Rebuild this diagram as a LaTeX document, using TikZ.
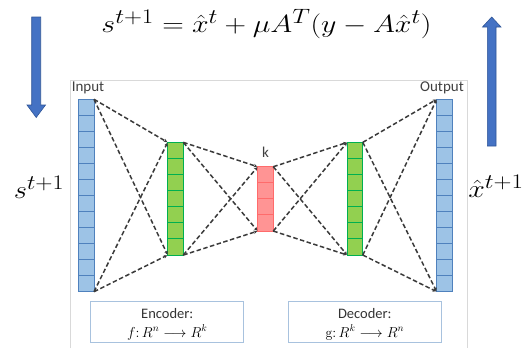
\documentclass[tikz,border=0pt]{standalone}
\usepackage{fontspec}
\usepackage{graphicx}
\newfontfamily\carlitofont{Carlito}
\usetikzlibrary{calc,arrows.meta}
\definecolor{bluefill}{HTML}{9DC3E6}
\definecolor{blueline}{HTML}{4F81BD}
\definecolor{greenfill}{HTML}{92D050}
\definecolor{greenline}{HTML}{00B050}
\definecolor{redfill}{HTML}{FF9494}
\definecolor{redline}{HTML}{FF6B6B}
\definecolor{arrowfill}{HTML}{4472C4}
\definecolor{arrowline}{HTML}{2F5597}
\definecolor{framegray}{HTML}{D9D9D9}
\definecolor{boxline}{HTML}{A8C2DE}
\definecolor{dashgray}{HTML}{3A3A3A}
\tikzset{
  col/.style={draw, line width=1pt, minimum width=15.6pt, inner sep=0pt, outer sep=0pt},
  bluecol/.style={col, fill=bluefill, draw=blueline},
  greencol/.style={col, fill=greenfill, draw=greenline},
  redcol/.style={col, fill=redfill, draw=redline},
  conn/.style={dashgray, line width=1.5pt, dash pattern=on 4.5pt off 2.5pt, -{Stealth[length=3.5pt,width=3.5pt]}, shorten >=0.5pt},
  lbl/.style={font=\carlitofont\fontsize{15}{17}\selectfont, text=black!75, inner sep=0pt},
  boxlbl/.style={font=\carlitofont\fontsize{14.5}{17}\selectfont, text=black!80, inner sep=0pt},
  infobox/.style={draw=boxline, line width=1pt, fill=white, minimum width=153pt, minimum height=40.6pt, inner sep=0pt},
  bigarrow/.style={fill=arrowfill, draw=arrowline, line width=0.6pt},
}
\newcommand{\mycells}[3]{% node, count, color
  \foreach \i in {1,...,\numexpr#2-1\relax}{
    \draw[#3, line width=1pt] ($(#1.north west)!{\i/#2}!(#1.south west)$) -- ($(#1.north east)!{\i/#2}!(#1.south east)$);
  }}
\begin{document}
\begin{tikzpicture}[x=1pt,y=-1pt]
\useasboundingbox (0,0) rectangle (527,348);
% frame
\draw[framegray, line width=0.8pt] (70.5,348) -- (70.5,80) -- (467,80) -- (467,348);
% columns
\node[bluecol, minimum height=192.4pt] (in) at (86.2,195.5) {};
\node[greencol, minimum height=112.7pt] (g1) at (175.5,198.7) {};
\node[redcol, minimum height=64.3pt] (r) at (265.5,198.9) {};
\node[greencol, minimum height=112.7pt] (g2) at (355,198.7) {};
\node[bluecol, minimum height=192.4pt] (out) at (444.5,195.5) {};
\mycells{in}{12}{blueline}
\mycells{g1}{7}{greenline}
\mycells{r}{4}{redline}
\mycells{g2}{7}{greenline}
\mycells{out}{12}{blueline}
% labels
\node[lbl] (linput) at (88,88) {Input};
\node[lbl] (loutput) at (442,88) {Output};
\node[lbl] (lk) at (265.5,152) {k};
% connections
\foreach \a/\b in {in/g1, g1/r, r/g2, g2/out}{
  \draw[conn] (\a.north east) -- (\b.north west);
  \draw[conn] (\a.north east) -- (\b.south west);
  \draw[conn] (\a.south east) -- (\b.north west);
  \draw[conn] (\a.south east) -- (\b.south west);
}
% boxes
\node[infobox] (enc) at (167.3,322) {};
\node[boxlbl] (enct) at (167.3,313.5) {Encoder:};
\node[inner sep=0pt] (encf) at (167.3,332.5) {\fontsize{14}{16}\selectfont $f\colon R^n\longrightarrow R^k$};
\node[infobox] (dec) at (364.8,322) {};
\node[boxlbl] (dect) at (364.8,313.5) {Decoder:};
\node[inner sep=0pt] (decf) at (364.8,332.5) {\fontsize{14}{16}\selectfont $\mathrm{g}\colon R^k\longrightarrow R^n$};
% big arrows
\draw[bigarrow] (31.7,17) -- (40.7,17) -- (40.7,105) -- (45.5,105) -- (36.2,117.5) -- (27,105) -- (31.7,105) -- cycle;
\draw[bigarrow] (487.3,146) -- (496,146) -- (496,27) -- (501,27) -- (491.7,17) -- (482.5,27) -- (487.3,27) -- cycle;
% formulas
\node[inner sep=0pt] (eq) at (266.5,24) {\scalebox{1.2}[1]{\fontsize{28}{32}\selectfont $s^{t+1}=\hat{x}^{t}+\mu A^{T}(y-A\hat{x}^{t})$}};
\node[inner sep=0pt] (sl) at (39,187) {\scalebox{1.15}[1]{\fontsize{28}{32}\selectfont $s^{t+1}$}};
\node[inner sep=0pt] (xr) at (496,186) {\scalebox{1.2}[1]{\fontsize{28}{32}\selectfont $\hat{x}^{t+1}$}};
\end{tikzpicture}
\end{document}
